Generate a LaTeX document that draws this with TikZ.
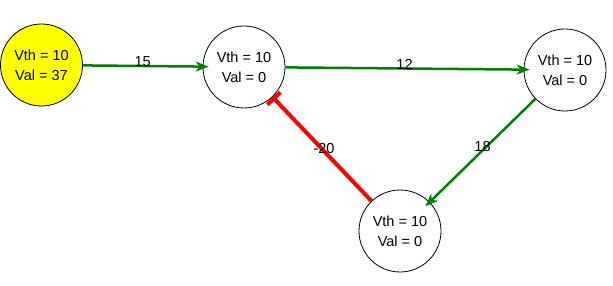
\documentclass[tikz,border=0pt]{standalone}
\usepackage{fontspec}
\setmainfont{Liberation Sans}
\usetikzlibrary{arrows.meta}
\definecolor{exgreen}{RGB}{0,128,0}
\definecolor{inred}{RGB}{255,0,0}
\definecolor{firing}{RGB}{255,255,0}

\begin{document}
\begin{tikzpicture}[x=1pt, y=-1pt,
                >={Stealth[length=13pt,width=10pt,inset=4pt]},
                neuron/.style={circle, draw, line width=0.8pt, minimum size=82pt,
                    inner sep=0pt, align=center, font=\fontsize{14.5}{20}\selectfont},
                excite/.style={->, draw=exgreen, line width=2.5pt, shorten >=-6pt},
                inhibit/.style={-{Bar[width=18pt,line width=4pt]}, draw=inred, line width=4pt},
                weight/.style={font=\fontsize{14.5}{17}\selectfont, yshift=4pt}]

                \useasboundingbox (0,0) rectangle (613,286);

                \node[neuron, fill=firing] (n1) at (41.5,65) {Vth = 10\\Val = 37};
                \node[neuron] (n2) at (244,67) {Vth = 10\\Val = 0};
                \node[neuron] (n3) at (565,70) {Vth = 10\\Val = 0};
                \node[neuron] (n4) at (400,231) {Vth = 10\\Val = 0};

                \path
                (n1) edge [excite] node [weight] {15} (n2)
                (n2) edge [excite] node [weight] {12} (n3)
                (n3) edge [excite] node [weight] {18} (n4)
                (n4) edge [inhibit] node [weight, yshift=-4pt, xshift=2pt] {-20} (n2);

\end{tikzpicture}
\end{document}
